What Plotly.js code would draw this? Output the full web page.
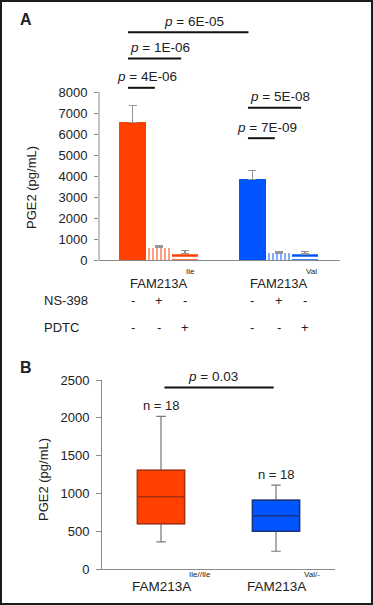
<!DOCTYPE html>
<html><head><meta charset="utf-8">
<script src="https://cdn.plot.ly/plotly-3.0.1.min.js"></script>
<style>
html,body{margin:0;padding:0;background:#fff;}
#wrap{position:relative;width:373px;height:605px;}
#chart{width:373px;height:605px;}
#frame{position:absolute;left:0;top:0;width:373px;height:605px;box-sizing:border-box;border:2px solid #1c1c1c;pointer-events:none;}
</style>
</head><body><div id="wrap"><div id="chart"></div><div id="frame"></div></div>
<script>
// ---------- Panel A data ----------
const genotypesA = ['Ile', 'Val'];
const treatments = ['Control', 'NS-398', 'PDTC'];
const ns398Signs = ['-', '+', '-'];
const pdtcSigns  = ['-', '-', '+'];
const pgeMeanA = [6550, 580, 300, 3850, 310, 290];
const pgeErrA  = [800, 90, 140, 400, 70, 130];
const pLabelsA = ['4E-06', '1E-06', '6E-05', '5E-08', '7E-09'];
const pFromA   = [0, 0, 0, 3, 3];   // bar index
const pToA     = [1, 2, 3, 5, 4];   // bar index
// ---------- Panel B data ----------
const genotypesB = ['Ile//Ile', 'Val/-'];
const lowerB  = [360, 235];
const q1B     = [600, 500];
const medianB = [957, 705];
const q3B     = [1305, 910];
const upperB  = [2020, 1110];
const nB      = [18, 18];
const pLabelB = '0.03';

// ---------- layout helpers ----------
const W = 373, H = 605;
const px = p => p / W;
const py = p => 1 - p / H;
const FONT = 'Liberation Sans, Arial, Helvetica, sans-serif';
const TXT = '#222';
const AX = '#8a8a8a';
const ORANGE = '#ff4000', BLUE = '#0055ff';
const GROUP_STEP = 4.56;
const bracketLevelsA = [8200, 9600, 10850, 7250, 5800];

const barX = [];
genotypesA.forEach((g, gi) => treatments.forEach((t, ti) => barX.push(gi * GROUP_STEP + ti)));
const barColors = [], patShapes = [], patFg = [], patSize = [], patSol = [];
genotypesA.forEach((g, gi) => {
  const base = gi === 0 ? ORANGE : BLUE;
  const hatch = gi === 0 ? ['#c8503c', '#b8321e'] : ['#1a3590', '#14307e'];
  treatments.forEach((t, ti) => {
    barColors.push(base);
    patShapes.push(ti === 0 ? '' : (ti === 1 ? '|' : '-'));
    patFg.push(ti === 0 ? base : hatch[ti - 1]);
    patSize.push(ti === 2 ? 5 : 4);
    patSol.push(ti === 2 ? 0.5 : 0.25);
  });
});

const traces = [{
  type: 'bar', x: barX, y: pgeMeanA, width: 1, xaxis: 'x', yaxis: 'y',
  marker: { color: barColors, line: { width: 0 },
    pattern: { shape: patShapes, fgcolor: patFg, bgcolor: '#ffffff', size: patSize, solidity: patSol, fillmode: 'replace' } },
  error_y: { type: 'data', symmetric: false, array: pgeErrA, arrayminus: pgeErrA.map(() => 0),
    color: '#959595', thickness: 1.3, width: 4 },
  hoverinfo: 'skip', showlegend: false
}];

// Panel B boxes: whisker trace (grey) + box trace (coloured)
const boxFill = [ORANGE, BLUE];
const boxLine = ['#a83010', '#1c3580'];
genotypesB.forEach((g, i) => {
  traces.push({
    type: 'box', xaxis: 'x2', yaxis: 'y2', x: [g],
    q1: [q1B[i]], median: [medianB[i]], q3: [q3B[i]],
    lowerfence: [lowerB[i]], upperfence: [upperB[i]],
    width: 0.41, whiskerwidth: 0.2, boxpoints: false,
    fillcolor: 'rgba(0,0,0,0)', line: { color: '#777', width: 1.2 },
    hoverinfo: 'skip', showlegend: false
  });
  traces.push({
    type: 'box', xaxis: 'x2', yaxis: 'y2', x: [g],
    q1: [q1B[i]], median: [medianB[i]], q3: [q3B[i]],
    lowerfence: [q1B[i]], upperfence: [q3B[i]],
    width: 0.41, whiskerwidth: 0, boxpoints: false,
    fillcolor: boxFill[i], line: { color: boxLine[i], width: 1.5 },
    hoverinfo: 'skip', showlegend: false
  });
});

const shapes = [];
const annotations = [];
const ann = o => annotations.push(Object.assign({ showarrow: false, xanchor: 'center', yanchor: 'middle' }, o));
// y-axis line of panel A (only up to 8000)
shapes.push({ type: 'line', xref: 'paper', yref: 'y', x0: px(99), x1: px(99), y0: 0, y1: 8000,
  line: { color: AX, width: 1 } });
// p-value brackets panel A
pLabelsA.forEach((lab, k) => {
  const x0 = barX[pFromA[k]] - 0.17, x1 = barX[pToA[k]] - 0.15;
  const yv = bracketLevelsA[k];
  shapes.push({ type: 'line', xref: 'x', yref: 'y', x0: x0, x1: x1, y0: yv, y1: yv,
    line: { color: '#111', width: 2 } });
  ann({ xref: 'x', yref: 'y', x: (x0 + x1) / 2 + 0.2, y: yv, yshift: 11,
    text: '<i>p</i> = ' + lab, font: { size: 13.5, color: TXT } });
});
// panel B bracket
shapes.push({ type: 'line', xref: 'x2', yref: 'y2', x0: 0.03, x1: 0.98, y0: 2400, y1: 2400,
  line: { color: '#111', width: 2 } });
ann({ xref: 'x2', yref: 'y2', x: 0.45, y: 2400, yshift: 11,
  text: '<i>p</i> = ' + pLabelB, font: { size: 13.5, color: TXT } });

// panel letters
ann({ xref: 'paper', yref: 'paper', x: px(26), y: py(19), text: '<b>A</b>', font: { size: 16, color: TXT } });
ann({ xref: 'paper', yref: 'paper', x: px(26), y: py(368), text: '<b>B</b>', font: { size: 16, color: TXT } });
// y titles
ann({ xref: 'paper', yref: 'paper', x: px(32), y: py(188), text: 'PGE2 (pg/mL)', textangle: -90,
  font: { size: 13, color: TXT } });
ann({ xref: 'paper', yref: 'paper', x: px(43), y: py(480), text: 'PGE2 (pg/mL)', textangle: -90,
  font: { size: 13, color: TXT } });

// panel A group labels
genotypesA.forEach((g, gi) => {
  const xc = barX[gi * 3 + 1];
  ann({ xref: 'x', yref: 'paper', x: xc, y: py(283), text: 'FAM213A', font: { size: 13, color: TXT } });
  ann({ xref: 'x', yref: 'paper', x: xc, xshift: 25, y: py(271), text: g, xanchor: 'left',
    font: { size: 8, color: TXT } });
});
// treatment rows
ann({ xref: 'paper', yref: 'paper', x: px(42), y: py(300), text: 'NS-398', xanchor: 'left', font: { size: 13, color: TXT } });
ann({ xref: 'paper', yref: 'paper', x: px(42), y: py(327), text: 'PDTC', xanchor: 'left', font: { size: 13, color: TXT } });
genotypesA.forEach((g, gi) => treatments.forEach((t, ti) => {
  const xv = barX[gi * 3 + ti];
  ann({ xref: 'x', yref: 'paper', x: xv, y: py(300), text: ns398Signs[ti], font: { size: 13, color: TXT } });
  ann({ xref: 'x', yref: 'paper', x: xv, y: py(327), text: pdtcSigns[ti], font: { size: 13, color: TXT } });
}));
// panel B labels
genotypesB.forEach((g, i) => {
  ann({ xref: 'x2', yref: 'paper', x: i, y: py(586), text: 'FAM213A', font: { size: 13.5, color: TXT } });
  ann({ xref: 'x2', yref: 'paper', x: i, xshift: 26, y: py(574), text: g, xanchor: 'left',
    font: { size: 8, color: TXT } });
  ann({ xref: 'x2', yref: 'y2', x: i, y: upperB[i], yshift: 11, text: 'n = ' + nB[i],
    font: { size: 13, color: TXT } });
});

const layout = {
  width: W, height: H, margin: { l: 0, r: 0, t: 0, b: 0 },
  paper_bgcolor: '#fff', plot_bgcolor: '#fff',
  font: { family: FONT, size: 13, color: TXT },
  showlegend: false, boxmode: 'overlay', bargap: 0,
  xaxis: { domain: [px(99), px(340)], range: [(99 - 132.5) / 26.3, (340 - 132.5) / 26.3],
    showline: true, linecolor: AX, linewidth: 1.2, ticks: '', showticklabels: false,
    showgrid: false, zeroline: false, anchor: 'y', fixedrange: true },
  yaxis: { domain: [py(260), py(8)], range: [0, 12000], tickvals: [0,1000,2000,3000,4000,5000,6000,7000,8000],
    ticks: 'outside', ticklen: 4, tickcolor: AX, tickwidth: 1, showline: false, showgrid: false,
    zeroline: false, anchor: 'x', tickfont: { size: 13, color: TXT }, ticklabelstandoff: 4, fixedrange: true },
  xaxis2: { domain: [px(102), px(335)], type: 'category', categoryorder: 'array', categoryarray: genotypesB,
    range: [-0.513, 1.513], showline: true, linecolor: AX, linewidth: 1.2, ticks: '', showticklabels: false,
    showgrid: false, zeroline: false, anchor: 'y2', fixedrange: true },
  yaxis2: { domain: [py(569), py(380)], range: [0, 2500], tickvals: [0,500,1000,1500,2000,2500],
    ticks: 'outside', ticklen: 5, tickcolor: AX, showline: true, linecolor: AX, linewidth: 1,
    showgrid: false, zeroline: false, anchor: 'x2', tickfont: { size: 13, color: TXT }, ticklabelstandoff: 4, fixedrange: true },
  shapes: shapes, annotations: annotations
};
Plotly.newPlot('chart', traces, layout, { displayModeBar: false, staticPlot: true });
</script></body></html>
